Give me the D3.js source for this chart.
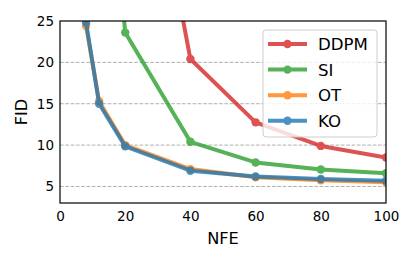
<!DOCTYPE html>
<html>
<head>
<meta charset="utf-8">
<script src="https://cdn.jsdelivr.net/npm/d3@7"></script>
<style>
  body { margin: 0; background: #fff; }
  text { font-family: "DejaVu Sans", sans-serif; fill: #000; }
</style>
</head>
<body>
<div id="chart"></div>
<script>
// NFE on x, FID on y
const seriesNames = ["DDPM", "SI", "OT", "KO"];
const colors = ["#d62728", "#2ca02c", "#ff7f0e", "#1f77b4"];

const ddpmNfe = [20, 40, 60, 80, 100];
const ddpmFid = [62, 20.4, 12.75, 9.9, 8.5];

const siNfe = [12, 20, 40, 60, 80, 100];
const siFid = [60, 23.6, 10.4, 7.9, 7.05, 6.6];

const otNfe = [4, 8, 12, 20, 40, 60, 80, 100];
const otFid = [60, 24.4, 15.3, 10.0, 7.1, 6.1, 5.75, 5.5];

const koNfe = [4, 8, 12, 20, 40, 60, 80, 100];
const koFid = [60, 24.8, 15.0, 9.85, 6.9, 6.2, 5.9, 5.7];

const xTicks = [0, 20, 40, 60, 80, 100];
const yTicks = [5, 10, 15, 20, 25];
const gridLines = [5, 10, 15, 20];

const W = 415, H = 260;
const margin = { left: 60, right: 29, top: 21, bottom: 57 };

const svg = d3.select("#chart").append("svg")
  .attr("width", W).attr("height", H);

const x = d3.scaleLinear().domain([0, 100]).range([margin.left, W - margin.right]);
const y = d3.scaleLinear().domain([3, 25]).range([H - margin.bottom, margin.top]);

/* ---- grid ---- */
svg.append("g").selectAll("line").data(gridLines).join("line")
  .attr("x1", x(0)).attr("x2", x(100))
  .attr("y1", d => y(d)).attr("y2", d => y(d))
  .attr("stroke", "#b0b0b0").attr("stroke-width", 1)
  .attr("stroke-dasharray", "3.7,1.6");

/* ---- clip ---- */
svg.append("clipPath").attr("id", "clip").append("rect")
  .attr("x", x(0)).attr("y", y(25))
  .attr("width", x(100) - x(0)).attr("height", y(3) - y(25));

const series = [
  { name: "DDPM", nfe: ddpmNfe, fid: ddpmFid },
  { name: "SI", nfe: siNfe, fid: siFid },
  { name: "OT", nfe: otNfe, fid: otFid },
  { name: "KO", nfe: koNfe, fid: koFid }
];

const line = d3.line().x(d => x(d[0])).y(d => y(d[1]));
const plot = svg.append("g").attr("clip-path", "url(#clip)");

series.forEach((s, i) => {
  const pts = s.nfe.map((n, j) => [n, s.fid[j]]);
  const g = plot.append("g").attr("opacity", 0.8);
  g.append("path").datum(pts)
    .attr("d", line)
    .attr("fill", "none")
    .attr("stroke", colors[i])
    .attr("stroke-width", 4)
    .attr("stroke-linejoin", "round")
    .attr("stroke-linecap", "butt");
  g.selectAll("circle").data(pts).join("circle")
    .attr("cx", d => x(d[0])).attr("cy", d => y(d[1]))
    .attr("r", 4.2).attr("fill", colors[i]);
});

/* ---- axes ---- */
const xAxis = svg.append("g")
  .attr("transform", `translate(0,${y(3)})`)
  .call(d3.axisBottom(x).tickValues(xTicks).tickSize(0).tickPadding(8));
const yAxis = svg.append("g")
  .attr("transform", `translate(${x(0)},0)`)
  .call(d3.axisLeft(y).tickValues(yTicks).tickSize(0).tickPadding(6));

[xAxis, yAxis].forEach(a => {
  a.select(".domain").remove();
  a.selectAll("text").attr("font-size", 13.5).attr("font-family", "DejaVu Sans").attr("fill", "#000");
});

svg.append("rect")
  .attr("x", x(0)).attr("y", y(25))
  .attr("width", x(100) - x(0)).attr("height", y(3) - y(25))
  .attr("fill", "none").attr("stroke", "#000").attr("stroke-width", 1.2);

svg.append("text")
  .attr("x", (x(0) + x(100)) / 2).attr("y", 244)
  .attr("text-anchor", "middle").attr("font-size", 16.2)
  .text("NFE");

svg.append("text")
  .attr("transform", `translate(27,${(y(3) + y(25)) / 2}) rotate(-90)`)
  .attr("text-anchor", "middle").attr("font-size", 16.2)
  .text("FID");

/* ---- legend ---- */
const legend = svg.append("g");
legend.append("rect")
  .attr("x", 263).attr("y", 30).attr("width", 114).attr("height", 107)
  .attr("rx", 3).attr("fill", "#fff").attr("fill-opacity", 0.8)
  .attr("stroke", "#cccccc").attr("stroke-width", 1);

seriesNames.forEach((name, i) => {
  const ly = 44 + i * 25.6;
  const g = legend.append("g").attr("opacity", 0.8);
  g.append("line")
    .attr("x1", 268).attr("x2", 307).attr("y1", ly).attr("y2", ly)
    .attr("stroke", colors[i]).attr("stroke-width", 4);
  g.append("circle").attr("cx", 287.5).attr("cy", ly).attr("r", 4.2).attr("fill", colors[i]);
  legend.append("text")
    .attr("x", 318).attr("y", ly + 6)
    .attr("font-size", 16.6)
    .text(name);
});
</script>
</body>
</html>
